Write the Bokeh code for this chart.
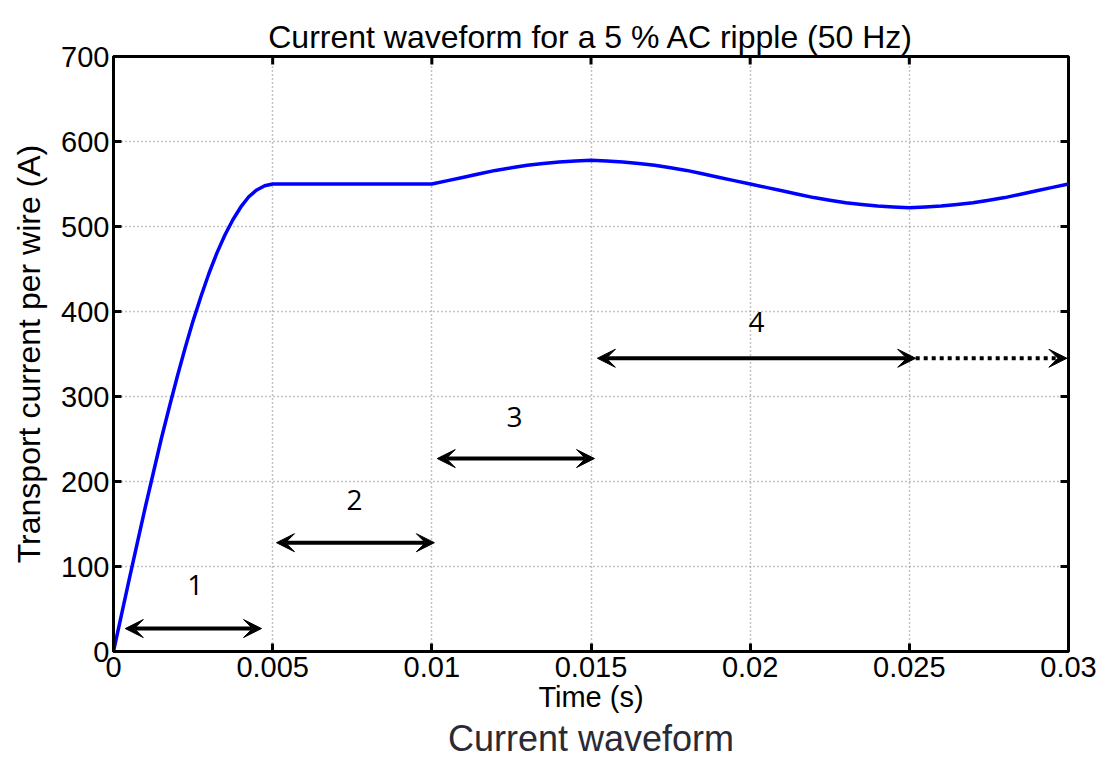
from bokeh.plotting import figure
from bokeh.models import FixedTicker, Arrow, VeeHead, Label, Range1d, Title
from bokeh.embed import file_html
from bokeh.resources import INLINE

# ---- data ----
time_s = [0.0, 0.00025, 0.0005, 0.00075, 0.001, 0.00125, 0.0015, 0.00175, 0.002,
          0.00225, 0.0025, 0.00275, 0.003, 0.00325, 0.0035, 0.00375, 0.004,
          0.00425, 0.0045, 0.00475, 0.005,
          0.0055, 0.006, 0.0065, 0.007, 0.0075, 0.008, 0.0085, 0.009, 0.0095, 0.01,
          0.0105, 0.011, 0.0115, 0.012, 0.0125, 0.013, 0.0135, 0.014, 0.0145, 0.015,
          0.0155, 0.016, 0.0165, 0.017, 0.0175, 0.018, 0.0185, 0.019, 0.0195, 0.02,
          0.0205, 0.021, 0.0215, 0.022, 0.0225, 0.023, 0.0235, 0.024, 0.0245, 0.025,
          0.0255, 0.026, 0.0265, 0.027, 0.0275, 0.028, 0.0285, 0.029, 0.0295, 0.03]
current_a = [0, 43, 86, 128, 170, 210, 250, 287, 323,
             357, 389, 418, 445, 469, 490, 508, 523,
             535, 543, 548, 550,
             550, 550, 550, 550, 550, 550, 550, 550, 550, 550,
             554, 558, 562, 566, 569, 572, 574, 576, 577, 578,
             577, 576, 574, 572, 569, 566, 562, 558, 554, 550,
             546, 542, 538, 534, 531, 528, 526, 524, 523, 522,
             523, 524, 526, 528, 531, 534, 538, 542, 546, 550]

x_ticks = [0, 0.005, 0.01, 0.015, 0.02, 0.025, 0.03]
x_tick_labels = ["0", "0.005", "0.01", "0.015", "0.02", "0.025", "0.03"]
y_ticks = [0, 100, 200, 300, 400, 500, 600, 700]

# phase arrows: start time, end time, level
arrow_x0 = [0.00037, 0.00512, 0.01017, 0.0152]
arrow_x1 = [0.00465, 0.01008, 0.01511, 0.0252]
arrow_y = [27, 128, 227, 345]
phase_labels = ["1", "2", "3", "4"]
phase_label_x = [0.00257, 0.00757, 0.0126, 0.0202]
phase_label_y = [78, 178, 276, 388]
# dotted continuation of phase 4
cont_x0, cont_x1, cont_y = 0.0252, 0.02995, 345

TITLE = "Current waveform for a 5 % AC ripple (50 Hz)"
XLABEL = "Time (s)"
YLABEL = "Transport current per wire (A)"
CAPTION = "Current waveform"

FONT = "Liberation Sans"
X0, X1, Y0, Y1 = 0, 0.03, 0, 700

p = figure(width=1101, height=758, output_backend="svg", toolbar_location=None,
           x_range=Range1d(X0, X1), y_range=Range1d(Y0, Y1),
           min_border_left=113, min_border_top=56, min_border_right=33,
           min_border_bottom=106)
p.background_fill_color = "white"
p.border_fill_color = "white"
p.outline_line_color = "black"
p.outline_line_width = 3

p.line(time_s, current_a, line_color="#0000ff", line_width=3.5)

for ax in (p.xaxis[0], p.yaxis[0]):
    ax.axis_line_width = 3
    ax.major_tick_line_width = 3
    ax.major_tick_in = 8
    ax.major_tick_out = 0
    ax.minor_tick_line_color = None
    ax.major_label_text_font = FONT
    ax.major_label_text_font_size = "29px"
    ax.major_label_text_color = "black"
    ax.axis_label_text_font = FONT
    ax.axis_label_text_font_style = "normal"
    ax.axis_label_text_color = "black"

p.xaxis.ticker = FixedTicker(ticks=x_ticks)
p.xaxis.major_label_overrides = {t: l for t, l in zip(x_ticks, x_tick_labels)}
p.yaxis.ticker = FixedTicker(ticks=y_ticks)
p.xaxis.major_label_standoff = 5
p.yaxis.major_label_standoff = 4
p.yaxis.axis_label = YLABEL
p.yaxis.axis_label_text_font_size = "32px"
p.yaxis.axis_label_standoff = 11
p.xaxis.axis_label = XLABEL
p.xaxis.axis_label_text_font_size = "29px"
p.xaxis.axis_label_standoff = 1

# mirrored inward ticks on the top and right edges
tick_len_y = 8 * (Y1 - Y0) / 595
tick_len_x = 8 * (X1 - X0) / 955
p.segment(x0=x_ticks, x1=x_ticks, y0=[Y1] * len(x_ticks),
          y1=[Y1 - tick_len_y] * len(x_ticks), line_color="black", line_width=3)
p.segment(x0=[X1] * len(y_ticks), x1=[X1 - tick_len_x] * len(y_ticks),
          y0=y_ticks, y1=y_ticks, line_color="black", line_width=3)

p.grid.grid_line_color = "#888888"
p.grid.grid_line_dash = "1 3"
p.grid.grid_line_width = 1.5
p.xgrid.ticker = FixedTicker(ticks=x_ticks)
p.ygrid.ticker = FixedTicker(ticks=y_ticks)

# arrows
for x0, x1, y in zip(arrow_x0, arrow_x1, arrow_y):
    p.add_layout(Arrow(x_start=x0, x_end=x1, y_start=y, y_end=y, line_width=4,
                       line_color="black",
                       start=VeeHead(size=18, fill_color="black", line_color="black", line_width=1),
                       end=VeeHead(size=18, fill_color="black", line_color="black", line_width=1)))
p.add_layout(Arrow(x_start=cont_x0, x_end=cont_x1, y_start=cont_y, y_end=cont_y,
                   line_width=4, line_color="black", line_dash="4 4",
                   end=VeeHead(size=18, fill_color="black", line_color="black", line_width=1)))

for lx, ly, lt in zip(phase_label_x, phase_label_y, phase_labels):
    p.add_layout(Label(x=lx, y=ly, text=lt, text_font="Open Sans", text_font_size="28px",
                       text_color="black", text_align="center", text_baseline="middle"))

p.add_layout(Title(text=TITLE, align="center", text_font=FONT, text_font_size="32px",
                   text_font_style="normal", text_color="black", standoff=4), "above")
p.add_layout(Title(text=CAPTION, align="center", text_font=FONT, text_font_size="36px",
                   text_font_style="normal", text_color="#2a2a35", standoff=0), "below")

open("out.html", "w").write(file_html(p, INLINE))
